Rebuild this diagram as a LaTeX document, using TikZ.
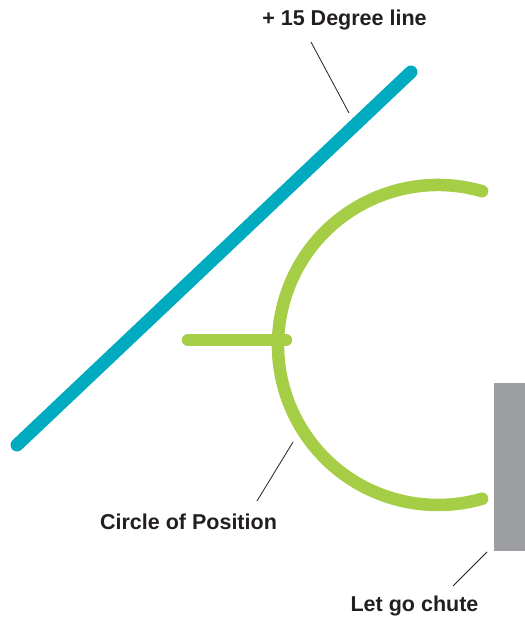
\documentclass[tikz,border=0pt]{standalone}
\usepackage{fontspec}
\setmainfont{Liberation Sans}
\usetikzlibrary{calc}
\definecolor{teal1}{HTML}{00AABF}
\definecolor{green1}{HTML}{A5CD45}
\definecolor{gray1}{HTML}{9D9EA2}
\definecolor{ink}{HTML}{231F20}
\begin{document}
\begin{tikzpicture}[x=1pt,y=1pt,
  lbl/.style={font=\bfseries\fontsize{21.5}{24}\selectfont, text=ink, inner sep=0pt, anchor=base},
  leader/.style={draw=ink, line width=0.8pt},
  bluebar/.style={draw=teal1, line width=13pt, line cap=round},
  greenbar/.style={draw=green1, line width=12.5pt, line cap=round}]
\useasboundingbox (0,0) rectangle (525,619);
% blue 15 degree line
\coordinate (b1) at (17,174);
\coordinate (b2) at (411,547);
\draw[bluebar] (b1) -- (b2);
% green circle of position
\coordinate (gs) at (438,274);
\draw[greenbar] ($(gs)+(74:160)$) arc[start angle=74, end angle=286, radius=160];
\coordinate (h1) at (188,279);
\coordinate (h2) at (286,279);
\draw[greenbar] (h1) -- (h2);
% let go chute
\node[fill=gray1, inner sep=0pt, minimum width=31pt, minimum height=168pt, anchor=south west] (chute) at (494,68) {};
% labels
\node[lbl] (t1) at (344.5,593) {+ 15 Degree line};
\node[lbl] (t2) at (188.5,89) {Circle of Position};
\node[lbl] (t3) at (414.5,8) {Let go chute};
\coordinate (l1a) at (311,577);
\coordinate (l1b) at (349,506);
\coordinate (l2a) at (257,118);
\coordinate (l2b) at (293,177);
\coordinate (l3a) at (453,33);
\coordinate (l3b) at (487,67);
\draw[leader] (l1a) -- (l1b);
\draw[leader] (l2a) -- (l2b);
\draw[leader] (l3a) -- (l3b);
\end{tikzpicture}
\end{document}
